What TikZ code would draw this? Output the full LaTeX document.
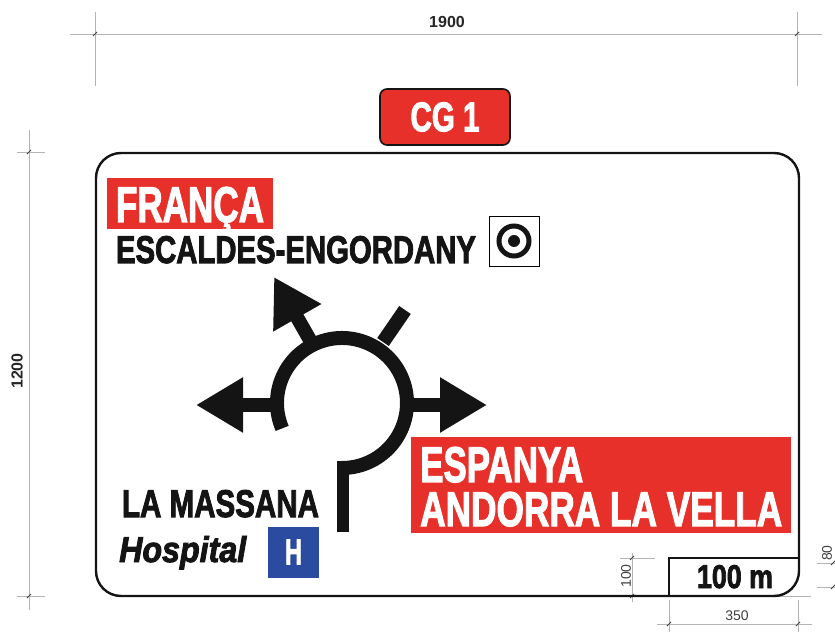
\documentclass[tikz,border=0pt]{standalone}
\usepackage{fontspec}
\usepackage{graphicx}
\setmainfont{Liberation Sans}
\newfontfamily\signfont[FakeBold=2.6]{Liberation Sans Bold}
\newfontfamily\signitalic[FakeBold=2.6]{Liberation Sans Bold Italic}
\usetikzlibrary{arrows.meta, positioning}
\definecolor{signred}{HTML}{E8302A}
\definecolor{signblue}{HTML}{2A4BA0}
\definecolor{dimgrey}{HTML}{B4B4B8}
\newcommand{\signlabel}[3]{\resizebox{#1pt}{#2pt}{\signfont #3}}
\tikzset{
  road/.style={line width=14pt, color=black!92},
  roadarrow/.style={road, -{Triangle[length=47pt,width=52pt]}},
  plate/.style={fill=signred, inner sep=0pt, text=white},
  signtext/.style={inner sep=0pt, text=black!92},
  dimline/.style={draw=dimgrey, line width=.9pt},
  dimtext/.style={inner sep=0pt, text=black!75, font=\fontsize{14}{14}\selectfont},
}
\begin{document}
\begin{tikzpicture}[x=1pt, y=1pt]
   \useasboundingbox (0,0) rectangle (835,632);
   % dimension lines
   \draw[dimline] (70,598) -- (822,598);
   \draw[dimline] (95,620) -- (95,546);
   \draw[dimline] (797,620) -- (797,546);
   \draw[dimline] (29,502) -- (29,22);
   \draw[dimline] (17,480) -- (45,480);
   \draw[dimline] (17,36) -- (45,36);
   \draw[dimline] (632,79) -- (632,30);
   \draw[dimline] (620,74) -- (655,74);
   \draw[dimline] (620,36) -- (811,36);
   \draw[dimline] (657,8) -- (812,8);
   \draw[dimline] (669,32) -- (669,0);
   \draw[dimline] (798,32) -- (798,0);
   \draw[dimline] (817,69) -- (835,69);
   \draw[dimline] (817,45) -- (835,45);
   \foreach \tx/\ty in {95/598, 797/598, 29/480, 29/36, 632/74, 632/36, 669/8, 798/8, 833/69, 833/45}
      \draw[black!75, line width=1pt] (\tx-2,\ty-2) -- (\tx+2,\ty+2);
   \node[inner sep=0pt, font=\bfseries\fontsize{16}{16}\selectfont, text=black!85] (width_label) at (447,610) {1900};
   \node[inner sep=0pt, rotate=90, font=\bfseries\fontsize{16}{16}\selectfont, text=black!85] (height_label) at (17,261) {1200};
   \node[dimtext, rotate=90] (panel_h) at (626,56) {100};
   \node[dimtext] (panel_w) at (737,16) {350};
   \node[dimtext, rotate=90] (panel_g) at (827,79) {80};
   % sign
   \node[draw=black!92, line width=2.4pt, rounded corners=25pt, minimum width=703pt, minimum height=443pt, inner sep=0pt] (sign) at (447.5,257.5) {};
   \node[draw=black!92, line width=1.6pt, fill=signred, rounded corners=7pt, minimum width=130pt, minimum height=56pt, inner sep=0pt] (road_no) at (445,515) {};
   \node[inner sep=0pt, text=white] (road_text) at (road_no) {\signlabel{69}{29}{CG 1}};
   % top left destinations
   \node[plate, minimum width=166pt, minimum height=51pt] (franca_box) at (190,428.5) {};
   \node[inner sep=0pt, text=white, anchor=base] (franca) at (190,410) {\signlabel{148}{35}{FRANÇA}};
   \node[signtext, anchor=base] (escaldes) at (296,369) {\signlabel{360}{27}{ESCALDES-ENGORDANY}};
   \node[draw=black, line width=.8pt, minimum size=50pt, inner sep=0pt] (target) at (514,391) {};
   \draw[black!92, line width=5pt] (target.center) circle (15pt);
   \fill[black!92] (target.center) circle (6pt);
   % roundabout
   \coordinate (ring) at (342,229);
   \coordinate (left_end) at (277,227);
   \coordinate (left_tip) at (196,227);
   \coordinate (right_end) at (407,227);
   \coordinate (right_tip) at (487,227);
   \coordinate (up_end) at (310,292);
   \coordinate (up_tip) at (274,355);
   \coordinate (stub_start) at (383,290);
   \coordinate (stub_end) at (405,322);
   \coordinate (stem_top) at (342.5,171);
   \coordinate (stem_end) at (342.5,100);
   \draw[road] (ring) ++(203:65pt) arc[start angle=203, end angle=-90, radius=65pt];
   \draw[road, line width=12pt] (stem_top) -- (stem_end);
   \draw[road] (stub_start) -- (stub_end);
   \draw[roadarrow] (left_end) -- (left_tip);
   \draw[roadarrow] (right_end) -- (right_tip);
   \draw[roadarrow] (up_end) -- (up_tip);
   % bottom left destinations
   \node[signtext, anchor=base] (massana) at (220.5,115) {\signlabel{197}{27}{LA MASSANA}};
   \node[signtext, anchor=base west] (hospital) at (119,70) {\resizebox{127pt}{26pt}{\signitalic Hospital}};
   \node[fill=signblue, minimum size=51pt, inner sep=0pt] (hosp_box) at (293.5,80) {};
   \node[inner sep=0pt, text=white] (hosp_text) at (hosp_box) {\signlabel{17}{25}{H}};
   % bottom right destinations
   \node[plate, minimum width=380pt, minimum height=96pt] (espanya_box) at (601,147) {};
   \node[inner sep=0pt, text=white, anchor=base west] (espanya) at (420,150) {\signlabel{163}{35}{ESPANYA}};
   \node[inner sep=0pt, text=white, anchor=base west] (andorra) at (420,106) {\signlabel{362}{34}{ANDORRA LA VELLA}};
   % distance panel
   \coordinate (panel_a) at (669,36);
   \coordinate (panel_b) at (669,74);
   \coordinate (panel_c) at (799,74);
   \draw[black!92, line width=2pt] (panel_a) -- (panel_b) -- (panel_c);
   \node[signtext, anchor=base] (dist) at (735,44) {\signlabel{76}{23}{100 m}};
\end{tikzpicture}
\end{document}
